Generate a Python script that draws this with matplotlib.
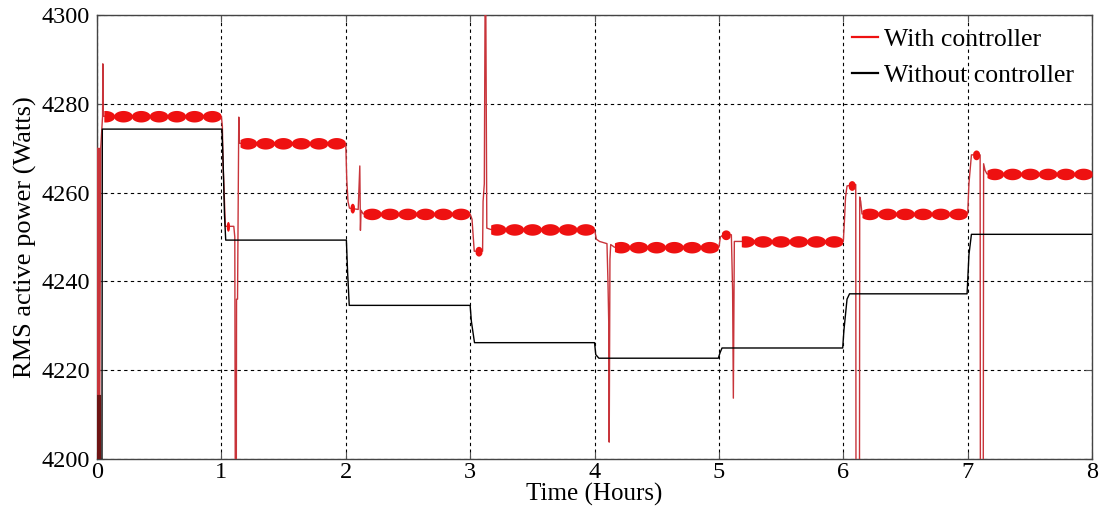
import numpy as np
import matplotlib
matplotlib.use("Agg")
import matplotlib.pyplot as plt

plt.rcParams['font.family'] = ['Liberation Serif', 'DejaVu Serif']

# Steady-state RMS power per one-hour interval (W)
hours = [0, 1, 2, 3, 4, 5, 6, 7]
with_ctrl_level = [4277.2, 4271.1, 4255.2, 4251.7, 4247.7, 4249.0, 4255.2, 4264.2]
without_ctrl_level = [4274.3, 4249.3, 4234.6, 4226.2, 4222.7, 4225.0, 4237.2, 4250.6]

# Time at which the controlled output settles in each interval (h)
settle_time = [0.055, 1.15, 2.14, 3.165, 4.16, 5.18, 6.15, 7.155]
settle_end = [0.995, 1.995, 2.995, 3.998, 4.995, 5.995, 6.995, 8.0]

# Switching transients of the controlled output: (time h, power W)
transient_t = [
    [0.0, 0.004, 0.008, 0.012, 0.016, 0.02, 0.03, 0.045, 0.047, 0.049, 0.052],
    [1.0, 1.008, 1.014, 1.02, 1.032, 1.1, 1.108, 1.112, 1.12, 1.122, 1.13, 1.14, 1.145],
    [2.0, 2.008, 2.018, 2.03, 2.1, 2.113, 2.118, 2.123, 2.14],
    [3.0, 3.015, 3.033, 3.1, 3.104, 3.114, 3.12, 3.126, 3.134, 3.165],
    [4.0, 4.015, 4.04, 4.1, 4.108, 4.114, 4.118, 4.124, 4.13, 4.16],
    [5.0, 5.012, 5.04, 5.1, 5.106, 5.11, 5.116, 5.124, 5.18],
    [6.0, 6.008, 6.018, 6.03, 6.1, 6.102, 6.13, 6.132, 6.14, 6.15],
    [7.0, 7.01, 7.03, 7.1, 7.102, 7.125, 7.128, 7.14, 7.155],
]
transient_p = [
    [4192, 4270, 4192, 4214, 4270, 4195, 4270, 4277.2, 4289, 4277.2, 4277.2],
    [4277.2, 4275, 4266, 4262, 4252.4, 4252.4, 4250, 4192, 4192, 4236, 4236, 4277, 4271.1],
    [4271.1, 4263, 4258, 4256.5, 4256.2, 4266, 4251.5, 4256, 4255.2],
    [4255.2, 4254, 4246.8, 4246.8, 4258, 4262, 4302, 4302, 4252, 4251.7],
    [4251.7, 4249.5, 4249, 4248.5, 4240, 4231, 4203.8, 4245, 4248.3, 4247.7],
    [4247.7, 4250, 4250.6, 4250.5, 4243, 4238, 4213.7, 4249, 4249.0],
    [4249.0, 4253, 4259, 4261.5, 4261.8, 4192, 4192, 4259, 4258, 4255.2],
    [4255.2, 4262, 4268.5, 4268.5, 4192, 4192, 4266.5, 4265, 4264.2],
]

# Short ripple plateaus inside the transients: (start h, end h, level W)
plateau_start = [1.04, 2.035, 3.04, 5.02, 6.04, 7.04]
plateau_end = [1.065, 2.07, 3.095, 5.09, 6.095, 7.095]
plateau_level = [4252.4, 4256.5, 4246.8, 4250.5, 4261.6, 4268.5]

# Uncontrolled output: (time h, power W)
without_t = [0.04, 0.043, 1.005, 1.015, 1.025, 1.035, 2.005, 2.015, 2.028, 3.0, 3.01, 3.035,
             4.0, 4.01, 4.035, 4.995, 5.01, 5.025, 5.995, 6.005, 6.03, 6.05, 6.995, 7.01,
             7.03, 8.0]
without_p = [4195, 4274.3, 4274.3, 4266, 4255, 4249.3, 4249.3, 4242, 4234.6, 4234.6, 4231,
             4226.2, 4226.2, 4223.5, 4222.7, 4222.7, 4224, 4225.0, 4225.0, 4229, 4236, 4237.2,
             4237.2, 4246, 4250.6, 4250.6]

ripple_per_hour = 7.0
ripple_amp = 1.0

RED = '#ee1111'
THIN_RED = '#c8343a'

fig = plt.figure(figsize=(11.02, 5.17), dpi=100)
ax = fig.add_axes([0.088, 0.1122, 0.903, 0.8588])

# Controlled output: thin trace through transients and settled levels
red_t, red_p = [], []
for i in range(len(hours)):
    red_t += transient_t[i] + [settle_end[i]]
    red_p += transient_p[i] + [with_ctrl_level[i]]
ax.plot(red_t, red_p, color=THIN_RED, lw=1.0, zorder=3)

# Ripple envelope on the settled levels (bead-shaped beating)
for i in range(len(hours)):
    t = np.linspace(settle_time[i], settle_end[i], 800)
    s = np.abs(np.sin(np.pi * ripple_per_hour * (settle_end[i] - t)))
    env = ripple_amp * np.sqrt(s) + 0.3
    ax.fill_between(t, with_ctrl_level[i] - env, with_ctrl_level[i] + env,
                    color=RED, lw=0, zorder=4)
for s0, e0, lv in zip(plateau_start, plateau_end, plateau_level):
    t = np.linspace(s0, e0, 60)
    env = 0.8 * np.sqrt(np.abs(np.sin(np.pi * (t - s0) / (e0 - s0)))) + 0.3
    ax.fill_between(t, lv - env, lv + env, color=RED, lw=0, zorder=4)

# Start-up transient bar
ax.plot([0.015, 0.015], [4192, 4214], color='#6e1414', lw=3, zorder=3)

ax.plot(without_t, without_p, color='black', lw=1.0, zorder=3)

# Legend entries
ax.plot([], [], color=RED, lw=1.6, label='With controller')
ax.plot([], [], color='black', lw=1.6, label='Without controller')
h, l = ax.get_legend_handles_labels()
ax.legend(h[-2:], l[-2:], loc='upper right', frameon=False, fontsize=18.5,
          handlelength=1.0, handletextpad=0.25, borderaxespad=0.1, labelspacing=0.5,
          bbox_to_anchor=(0.995, 1.0))

ax.set_xlim(0, 8)
ax.set_ylim(4200, 4300)
ax.set_xticks(range(0, 9))
ax.set_yticks(range(4200, 4301, 20))
ax.grid(True, color='black', linestyle=(0, (3, 3)), lw=0.8)
ax.tick_params(direction='in', length=5, labelsize=17.5, color='#555555',
               top=True, right=True)
ax.tick_params(axis='y', pad=5)
ax.tick_params(axis='x', pad=2)
for sp in ax.spines.values():
    sp.set_color('#444444')
    sp.set_linewidth(1.0)

ax.set_xlabel('Time (Hours)', fontsize=18, labelpad=0)
ax.set_ylabel('RMS active power (Watts)', fontsize=19, labelpad=3)

fig.savefig('out.png', dpi=100)
